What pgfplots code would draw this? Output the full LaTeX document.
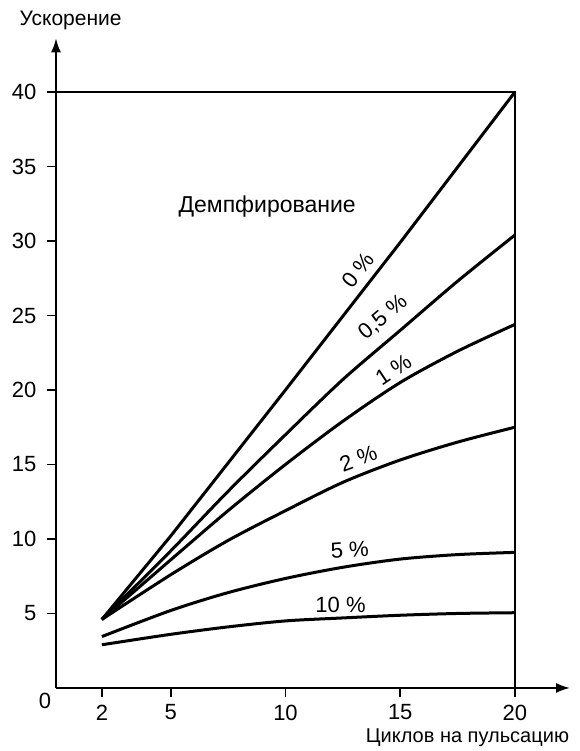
\documentclass[border=0pt]{standalone}
\usepackage{fontspec}
\setmainfont{Liberation Sans}
\usepackage{pgfplots}
\pgfplotsset{compat=1.18}
\usetikzlibrary{arrows.meta}

\begin{document}
\fontsize{11}{13}\selectfont
\begin{tikzpicture}
\begin{axis}[
    scale only axis,
    width=257pt, height=324.8pt,
    xmin=0, xmax=22.4,
    ymin=0, ymax=43.6,
    axis lines=left,
    axis line style={line width=1pt, -{Latex[length=7pt,width=5pt]}},
    xtick={2,5,10,15,20},
    ytick={5,10,...,40},
    tick align=outside,
    major tick length=4.5pt,
    tick style={black, line width=0.8pt},
    ticklabel style={font=\fontsize{11}{13}\selectfont},
    yticklabel style={xshift=-1.5pt},
    /pgf/number format/assume math mode=true,
    clip=false,
    every node/.append style={inner sep=0pt},
]

% frame: top line at 40 and right line at 20
\draw[line width=0.9pt] (axis cs:0,40) -- (axis cs:20,40) -- (axis cs:20,0);

% 0 %
\addplot[black, line width=1.5pt] coordinates {(2,4.6) (5,10.2) (10,20) (15,29.9) (20,40)};
% 0,5 %
\addplot[black, line width=1.5pt, smooth] coordinates {(2,4.6) (5,9.2) (7.5,13.2) (10,17.0) (12.5,20.7) (15,24.0) (17.5,27.3) (20,30.4)};
% 1 %
\addplot[black, line width=1.5pt, smooth] coordinates {(2,4.6) (5,8.6) (7.5,11.9) (10,15.0) (12.5,17.9) (15,20.5) (17.5,22.6) (20,24.4)};
% 2 %
\addplot[black, line width=1.5pt, smooth] coordinates {(2,4.6) (5,7.6) (7.5,9.9) (10,11.9) (12.5,13.8) (15,15.3) (17.5,16.5) (20,17.5)};
% 5 %
\addplot[black, line width=1.5pt, smooth] coordinates {(2,3.45) (5,5.2) (7.5,6.4) (10,7.35) (12.5,8.1) (15,8.65) (17.5,8.95) (20,9.1)};
% 10 %
\addplot[black, line width=1.5pt, smooth] coordinates {(2,2.9) (5,3.6) (7.5,4.1) (10,4.5) (12.5,4.7) (15,4.88) (17.5,5.0) (20,5.05)};

\node[font=\fontsize{11.5}{13}\selectfont] at (axis cs:9.2,32.3) {Демпфирование};
\node[rotate=52] at (axis cs:13.15,28.05) {0 \%};
\node[rotate=40] at (axis cs:14.25,24.85) {0,5 \%};
\node[rotate=34] at (axis cs:14.7,21.35) {1 \%};
\node[rotate=20] at (axis cs:13.17,15.4) {2 \%};
\node[rotate=4] at (axis cs:12.8,9.25) {5 \%};
\node at (axis cs:12.4,5.55) {10 \%};

\node at (axis cs:-0.48,-0.85) {0};
\node[anchor=east, font=\fontsize{10}{12}\selectfont] at (axis cs:22.69,-3.36) {Циклов на пульсацию};
\node[anchor=west, font=\fontsize{10.5}{12}\selectfont] at (axis cs:-1.92,44.83) {Ускорение};

\coordinate (bl) at (axis cs:-2.44,-4.23);
\coordinate (tr) at (axis cs:22.82,46.17);
\end{axis}
\pgfresetboundingbox
\path (bl) rectangle (tr);
\end{tikzpicture}
\end{document}
